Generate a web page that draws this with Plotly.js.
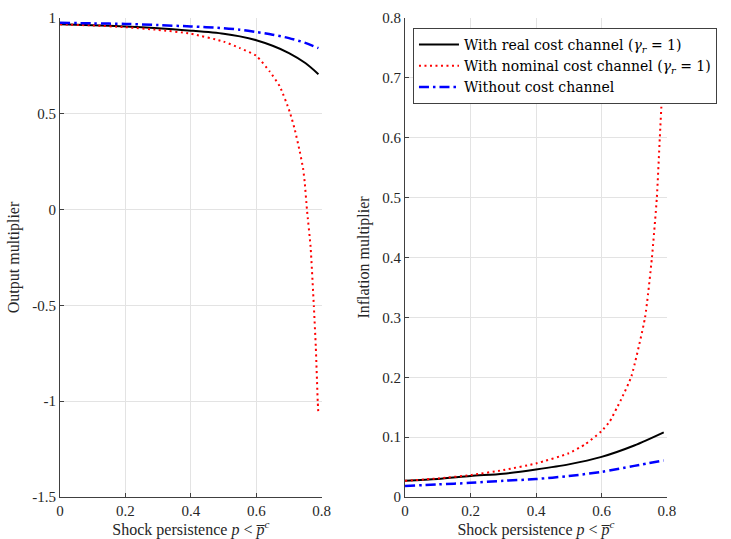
<!DOCTYPE html>
<html><head><meta charset="utf-8">
<script src="https://cdn.plot.ly/plotly-3.0.1.min.js"></script>
<style>html,body{margin:0;padding:0;background:#fff;}#chart{width:731px;height:539px;}</style>
</head><body><div id="chart"></div>
<script>
// Shock persistence values (x)
const pSmooth = [0, 0.1, 0.2, 0.3, 0.4, 0.5, 0.55, 0.6, 0.65, 0.7, 0.75, 0.79];
const outReal = [0.967, 0.962, 0.956, 0.947, 0.934, 0.918, 0.904, 0.884, 0.855, 0.817, 0.765, 0.707];
const outNone = [0.975, 0.972, 0.969, 0.963, 0.956, 0.947, 0.939, 0.927, 0.913, 0.895, 0.870, 0.843];

const pOutNom = [0, 0.1, 0.2, 0.3, 0.4, 0.5, 0.55, 0.6, 0.641, 0.672, 0.702, 0.718, 0.733, 0.743, 0.748, 0.755, 0.766, 0.776, 0.782, 0.788, 0.79];
const outNom = [0.967, 0.961, 0.952, 0.938, 0.918, 0.877, 0.843, 0.803, 0.721, 0.643, 0.512, 0.416, 0.303, 0.216, 0.145, 0.0, -0.193, -0.502, -0.716, -1.003, -1.07];

const pInf = [0, 0.1, 0.2, 0.3, 0.4, 0.5, 0.6, 0.7, 0.79];
const infReal = [0.027, 0.030, 0.035, 0.039, 0.046, 0.0545, 0.067, 0.086, 0.108];
const infNone = [0.0185, 0.021, 0.0236, 0.027, 0.030, 0.035, 0.042, 0.052, 0.061];

const pInfNom = [0, 0.1, 0.2, 0.3, 0.4, 0.5, 0.55, 0.6, 0.625, 0.647, 0.66, 0.691, 0.733, 0.754, 0.769, 0.778, 0.784, 0.79];
const infNom = [0.027, 0.031, 0.0365, 0.045, 0.056, 0.073, 0.088, 0.110, 0.126, 0.149, 0.163, 0.201, 0.30, 0.40, 0.50, 0.60, 0.666, 0.76];

const xTicks = [0, 0.2, 0.4, 0.6, 0.8];
const xTickText = ['0', '0.2', '0.4', '0.6', '0.8'];
const yOutTicks = [-1.5, -1, -0.5, 0, 0.5, 1];
const yOutTickText = ['-1.5', '-1', '-0.5', '0', '0.5', '1'];
const yInfTicks = [0, 0.1, 0.2, 0.3, 0.4, 0.5, 0.6, 0.7, 0.8];
const yInfTickText = ['0', '0.1', '0.2', '0.3', '0.4', '0.5', '0.6', '0.7', '0.8'];

const names = [
  'With real cost channel (<i>γ</i><sub><i>r</i></sub> = 1)',
  'With nominal cost channel (<i>γ</i><sub><i>r</i></sub> = 1)',
  'Without cost channel'
];

const serif = 'Liberation Serif, DejaVu Serif, serif';
const lineReal = {color: '#000000', width: 2, dash: 'solid', shape: 'spline', smoothing: 0.8};
const lineNom = {color: '#ff0000', width: 2, dash: '2px,3.5px', shape: 'spline', smoothing: 0.5};
const lineNone = {color: '#0000ff', width: 2.5, dash: '10px,4px,2.5px,4px', shape: 'spline', smoothing: 0.8};

const traces = [
  {x: pSmooth, y: outReal, xaxis: 'x', yaxis: 'y', mode: 'lines', line: lineReal, showlegend: false, name: names[0]},
  {x: pOutNom, y: outNom, xaxis: 'x', yaxis: 'y', mode: 'lines', line: lineNom, showlegend: false, name: names[1]},
  {x: pSmooth, y: outNone, xaxis: 'x', yaxis: 'y', mode: 'lines', line: lineNone, showlegend: false, name: names[2]},
  {x: pInf, y: infReal, xaxis: 'x2', yaxis: 'y2', mode: 'lines', line: lineReal, name: names[0]},
  {x: pInfNom, y: infNom, xaxis: 'x2', yaxis: 'y2', mode: 'lines', line: lineNom, name: names[1]},
  {x: pInf, y: infNone, xaxis: 'x2', yaxis: 'y2', mode: 'lines', line: lineNone, name: names[2]}
];

const axisCommon = {
  showline: true, linecolor: '#404040', linewidth: 1, mirror: false,
  ticks: 'inside', ticklen: 4, tickcolor: '#404040', tickwidth: 1,
  showgrid: true, gridcolor: '#e3e3e3', gridwidth: 1, zeroline: false,
  tickfont: {family: serif, size: 15, color: '#262626'},
  fixedrange: true, automargin: false
};
const xTitle = 'Shock persistence <i>p</i> &lt; <i>p̅</i><sup><i>c</i></sup>';
const titleFont = {family: serif, size: 16, color: '#262626'};

const layout = {
  width: 731, height: 539,
  margin: {l: 60, r: 64, t: 18, b: 42},
  paper_bgcolor: '#ffffff', plot_bgcolor: '#ffffff',
  font: {family: serif, color: '#262626'},
  xaxis: Object.assign({}, axisCommon, {domain: [0, 0.4311], range: [0, 0.8], tickvals: xTicks, ticktext: xTickText, anchor: 'y',
    title: {text: xTitle, font: titleFont, standoff: 6}}),
  yaxis: Object.assign({}, axisCommon, {domain: [0, 1], range: [-1.5, 1], tickvals: yOutTicks, ticktext: yOutTickText, anchor: 'x',
    title: {text: 'Output multiplier', font: titleFont, standoff: 8}}),
  xaxis2: Object.assign({}, axisCommon, {domain: [0.5684, 1], range: [0, 0.8], tickvals: xTicks, ticktext: xTickText, anchor: 'y2',
    title: {text: xTitle, font: titleFont, standoff: 6}}),
  yaxis2: Object.assign({}, axisCommon, {domain: [0, 1], range: [0, 0.8], tickvals: yInfTicks, ticktext: yInfTickText, anchor: 'x2',
    title: {text: 'Inflation multiplier', font: titleFont, standoff: 8}}),
  showlegend: true,
  legend: {
    x: 0.5815, xanchor: 'left', xref: 'paper',
    y: 0.9791, yanchor: 'top', yref: 'paper',
    bgcolor: '#ffffff', bordercolor: '#404040', borderwidth: 1,
    font: {family: 'DejaVu Serif, Liberation Serif, serif', size: 14, color: '#000000'},
    tracegroupgap: 0, itemwidth: 40
  }
};

Plotly.newPlot('chart', traces, layout, {displayModeBar: false, staticPlot: true});
</script>
</body></html>
